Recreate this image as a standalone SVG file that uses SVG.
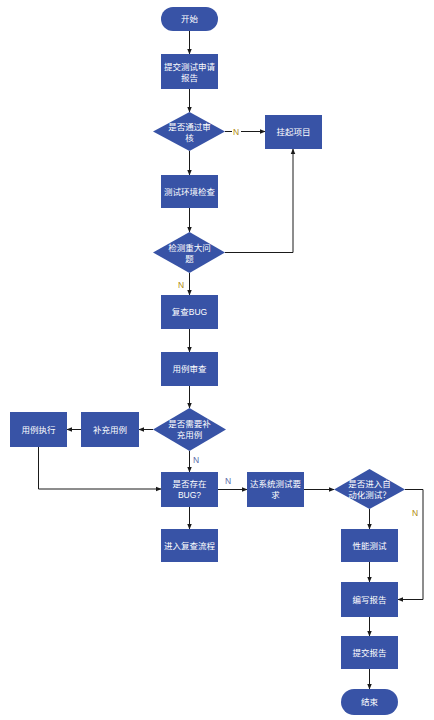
<svg xmlns="http://www.w3.org/2000/svg" width="434" height="720" viewBox="0 0 434 720">
<style>
.n{fill:#3853a6;}
.t{fill:#ffffff;font-family:"Liberation Sans","Noto Sans CJK SC",sans-serif;font-size:8.5px;text-anchor:middle;}
.c{fill:none;stroke:#1a1a1a;stroke-width:1;marker-end:url(#a);}
.l{fill:#b08a10;font-family:"Liberation Sans","Noto Sans CJK SC",sans-serif;font-size:8.5px;}
.lb{fill:#5a6aa8;font-family:"Liberation Sans","Noto Sans CJK SC",sans-serif;font-size:8.5px;}
</style>
<defs>
<marker id="a" viewBox="0 0 10 10" refX="9" refY="5" markerWidth="6" markerHeight="6" orient="auto" markerUnits="userSpaceOnUse">
<path d="M0,1 L10,5 L0,9 z" fill="#1a1a1a"/>
</marker>
</defs>
<rect width="434" height="720" fill="#ffffff"/>
<g id="connectors">
<path class="c" d="M189.5,31 V54"/>
<path class="c" d="M189.5,89 V112"/>
<path class="c" d="M225,131.5 H265"/>
<path class="c" d="M189.5,151 V175"/>
<path class="c" d="M189.5,208 V232"/>
<path class="c" d="M225,252.5 H293 V149"/>
<path class="c" d="M189.5,273 V295"/>
<path class="c" d="M189.5,329 V352"/>
<path class="c" d="M189.5,386 V408"/>
<path class="c" d="M153,429.5 H139"/>
<path class="c" d="M81,429.5 H67"/>
<path class="c" d="M38.5,447 V489 H161"/>
<path class="c" d="M189.5,451 V472"/>
<path class="c" d="M218,489.5 H247"/>
<path class="c" d="M304,489.5 H334"/>
<path class="c" d="M189.5,507 V529"/>
<path class="c" d="M405,489.5 H423 V599.5 H398"/>
<path class="c" d="M369.5,509 V529"/>
<path class="c" d="M369.5,562 V582"/>
<path class="c" d="M369.5,617 V636"/>
<path class="c" d="M369.5,669 V689"/>
<rect x="232" y="126" width="9" height="11" fill="#ffffff"/>
<text class="l" x="233" y="134.5">N</text>
<text class="l" x="178" y="288">N</text>
<text class="lb" x="193" y="463">N</text>
<text class="lb" x="225" y="484">N</text>
<text class="l" x="412" y="516">N</text>
</g>
<g id="start"><rect class="n" x="161" y="7" width="57" height="24" rx="12"/><text class="t" x="189.5" y="22">开始</text></g>
<g id="submit-apply"><rect class="n" x="161" y="54" width="57" height="35"/><text class="t" x="189.5" y="70">提交测试申请</text><text class="t" x="189.5" y="81">报告</text></g>
<g id="pass-review"><polygon class="n" points="189.5,112 225,131.5 189.5,151 153,131.5"/><text class="t" x="189.5" y="130">是否通过审</text><text class="t" x="189.5" y="141">核</text></g>
<g id="hang"><rect class="n" x="265" y="115" width="57" height="34"/><text class="t" x="293.5" y="135">挂起项目</text></g>
<g id="env-check"><rect class="n" x="161" y="175" width="57" height="33"/><text class="t" x="189.5" y="194.5">测试环境检查</text></g>
<g id="major-issue"><polygon class="n" points="189.5,232 225,252.5 189.5,273 153,252.5"/><text class="t" x="189.5" y="251">检测重大问</text><text class="t" x="189.5" y="262">题</text></g>
<g id="recheck-bug"><rect class="n" x="161" y="295" width="57" height="34"/><text class="t" x="189.5" y="315">复查BUG</text></g>
<g id="case-review"><rect class="n" x="161" y="352" width="57" height="34"/><text class="t" x="189.5" y="372">用例审查</text></g>
<g id="need-supplement"><polygon class="n" points="189.5,408 226,429.5 189.5,451 153,429.5"/><text class="t" x="189.5" y="427">是否需要补</text><text class="t" x="189.5" y="438">充用例</text></g>
<g id="supplement"><rect class="n" x="81" y="412" width="58" height="35"/><text class="t" x="110" y="432.5">补充用例</text></g>
<g id="execute"><rect class="n" x="10" y="412" width="57" height="35"/><text class="t" x="38.5" y="432.5">用例执行</text></g>
<g id="has-bug"><rect class="n" x="161" y="472" width="57" height="35"/><text class="t" x="189.5" y="487">是否存在</text><text class="t" x="189.5" y="498">BUG?</text></g>
<g id="meet-req"><rect class="n" x="247" y="472" width="57" height="35"/><text class="t" x="275.5" y="487">达系统测试要</text><text class="t" x="275.5" y="498">求</text></g>
<g id="auto-test"><polygon class="n" points="369.5,469 405,489.5 369.5,509 334,489.5"/><text class="t" x="369.5" y="487">是否进入自</text><text class="t" x="369.5" y="498">动化测试？</text></g>
<g id="recheck-flow"><rect class="n" x="161" y="529" width="57" height="33"/><text class="t" x="189.5" y="548.5">进入复查流程</text></g>
<g id="perf"><rect class="n" x="341" y="529" width="57" height="33"/><text class="t" x="369.5" y="548.5">性能测试</text></g>
<g id="write-report"><rect class="n" x="341" y="582" width="57" height="35"/><text class="t" x="369.5" y="602.5">编写报告</text></g>
<g id="submit-report"><rect class="n" x="341" y="636" width="57" height="33"/><text class="t" x="369.5" y="655.5">提交报告</text></g>
<g id="end"><rect class="n" x="341" y="689" width="57" height="26" rx="13"/><text class="t" x="369.5" y="705">结束</text></g>
</svg>
